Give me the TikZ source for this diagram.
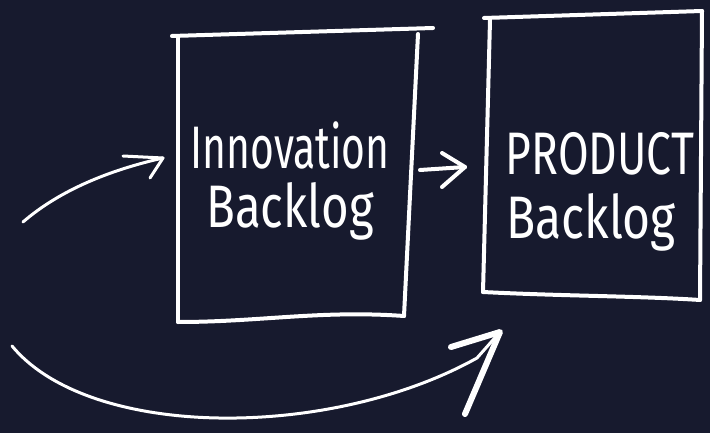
\documentclass[tikz,border=0pt]{standalone}
\usepackage{fontspec}
\usetikzlibrary{arrows.meta}
\newfontfamily\handfont{Fira Sans}
\definecolor{board}{HTML}{171A2E}
\tikzset{
  chalk/.style={draw=white, line width=4pt, line cap=round, line join=round},
  stroke/.style={draw=white, line width=3pt, line cap=round, line join=round},
  label/.style={text=white, anchor=base, inner sep=0pt,
    font=\handfont\addfontfeature{FakeStretch=#1}\fontsize{60}{60}\selectfont}
}
\begin{document}
\begin{tikzpicture}[x=1pt, y=-1pt]
  \fill[board] (0,0) rectangle (710,433);
  \useasboundingbox (0,0) rectangle (710,433);

  % innovation box
  \coordinate (ia) at (172,36);
  \coordinate (ib) at (433,28);
  \coordinate (ic) at (418,34);
  \coordinate (id) at (404,316);
  \coordinate (ie) at (178,38);
  \coordinate (if) at (178,322);
  \draw[chalk] (ia) to (ib);
  \draw[chalk] (ie) to (if);
  \draw[chalk] (ic) to (id);
  \draw[chalk] (if) .. controls (260,322) and (320,310) .. (id);

  % product box
  \coordinate (pa) at (484,18);
  \coordinate (pb) at (702,11);
  \coordinate (pc) at (490,20);
  \coordinate (pd) at (483,292);
  \coordinate (pe) at (700,300);
  \draw[chalk] (pa) to (pb);
  \draw[chalk] (pc) to (pd);
  \draw[chalk] (pb) to (pe);
  \draw[chalk] (pd) .. controls (560,296) and (640,296) .. (pe);

  \node[label=0.68] (innov) at (290,169) {Innovation};
  \node[label=0.79] (iback) at (290,227) {Backlog};
  \node[label=0.74] (prod) at (600,175) {PRODUCT};
  \node[label=0.8] (pback) at (591,238) {Backlog};

  % arrows
  \coordinate (s1) at (23,222);
  \coordinate (t1) at (163,158);
  \draw[stroke] (s1) .. controls (60,190) and (110,170) .. (t1);
  \draw[stroke] (123,156) -- (t1) -- (150,178);

  \coordinate (s2) at (420,170);
  \coordinate (t2) at (465,167);
  \draw[chalk] (s2) to (t2);
  \draw[chalk] (442,153) -- (t2) -- (442,187);

  \coordinate (s3) at (12,346);
  \coordinate (t3) at (500,332);
  \draw[stroke] (s3) .. controls (90,440) and (330,440) .. (477,358) -- (t3);
  \draw[chalk, line width=6pt] (451,347) -- (t3) -- (465,414);
\end{tikzpicture}
\end{document}
